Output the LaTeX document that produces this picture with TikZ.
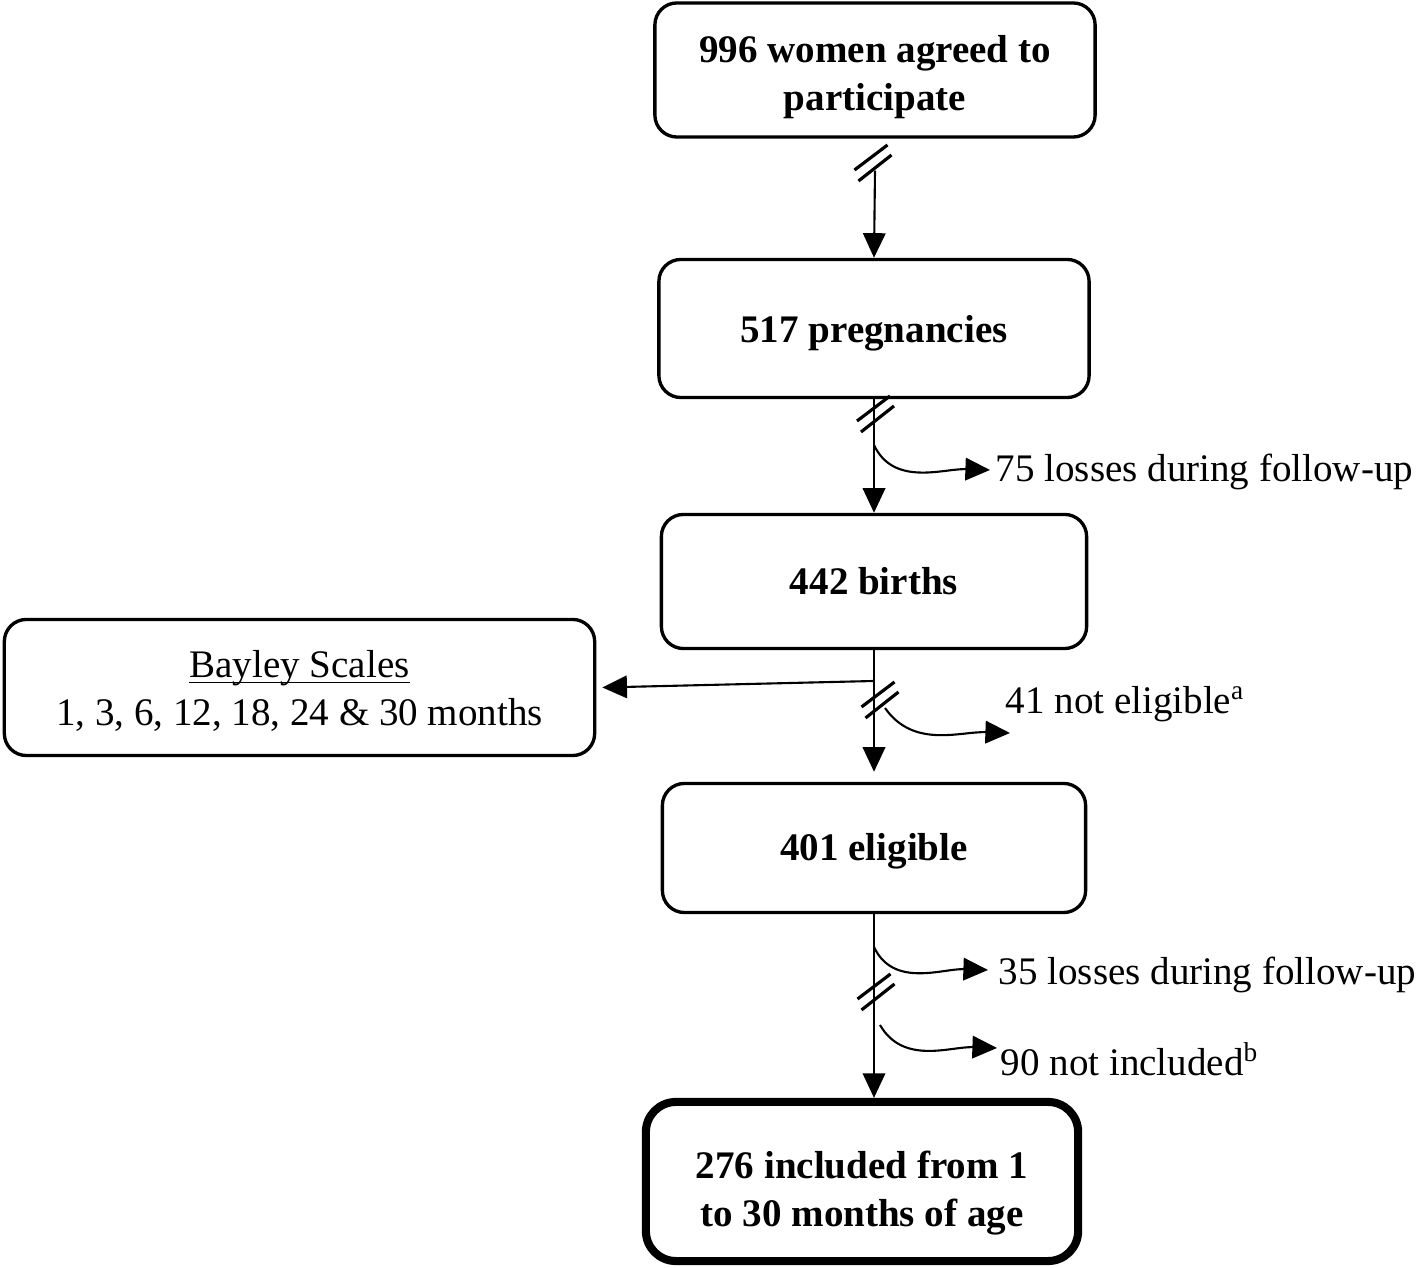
\documentclass[tikz,border=0pt]{standalone}
\usepackage{fontspec}
\setmainfont{Liberation Serif}
\usetikzlibrary{arrows.meta}

\def\fsz{\fontsize{11.1}{13.7}\selectfont}
\def\topgap#1{\rule{0pt}{#1}}

\begin{document}
\begin{tikzpicture}[x=0.01cm, y=-0.01cm,
    every node/.style={font=\fsz},
    stage/.style={draw, line width=0.95pt, rounded corners=0.22cm, align=center, font=\fsz\bfseries},
    flow/.style={line width=0.6pt, -{Triangle[length=7pt,width=6.4pt]}},
    cutmark/.pic={
      \draw[line width=0.9pt] (-18.5,7) -- (14.5,-18);
      \draw[line width=0.9pt] (-14.5,18) -- (18.5,-8);
    }]
      \useasboundingbox (0,0) rectangle (1418,1268);

      % boxes
      \node[stage, minimum width=4.40cm, minimum height=1.34cm] (women) at (875,70) {\topgap{11.6pt}996 women agreed to\\participate};
      \node[stage, text height=10.4pt, minimum width=4.30cm, minimum height=1.38cm] (preg) at (874,328.5) {517 pregnancies};
      \node[stage, minimum width=4.25cm, minimum height=1.34cm] (birth) at (874,581.5) {442 births};
      \node[stage, font=\fsz, minimum width=5.90cm, minimum height=1.36cm] (bayley) at (299.5,687.5) {\topgap{9.8pt}\underline{\smash{Bayley Scales}}\\1, 3, 6, 12, 18, 24 \& 30 months};
      \node[stage, text height=9.3pt, minimum width=4.23cm, minimum height=1.29cm] (elig) at (874,848) {401 eligible};
      \node[stage, line width=2.3pt, rounded corners=0.3cm, minimum width=4.32cm, minimum height=1.59cm] (incl) at (862,1181.5) {\topgap{14.4pt}276 included from 1\\to 30 months of age};

      % side labels
      \node[anchor=west, inner sep=0] (loss1) at (995,472) {75 losses during follow-up};
      \node[anchor=west, inner sep=0] (noelig) at (1005,704) {41 not eligible\textsuperscript{a}};
      \node[anchor=west, inner sep=0] (loss2) at (998,975) {35 losses during follow-up};
      \node[anchor=west, inner sep=0] (notinc) at (1000,1059) {90 not included\textsuperscript{b}};

      % branch points
      \coordinate (br0) at (874,681);
      \coordinate (br1) at (874,445);
      \coordinate (br2) at (885,708);
      \coordinate (br3) at (874,947);
      \coordinate (br4) at (880,1025);

      % main flow
      \draw[flow] ([yshift=-0.32cm]women.south) -- (preg.north);
      \draw[flow] (preg.south) -- (birth.north);
      \draw[flow] (birth.south) -- ([yshift=0.1cm]elig.north);
      \draw[flow] (elig.south) -- (elig.south |- incl.north);
      \draw[flow] (br0) -- ([xshift=0.06cm]bayley.east);

      % exits
      \draw[flow] (br1) to[out=-65, in=178] ([shift={(-0.05cm,0.02cm)}]loss1.west);
      \draw[flow] (br2) to[out=-55, in=178] ([shift={(0.05cm,-0.29cm)}]noelig.west);
      \draw[flow] (br3) to[out=-65, in=178] ([shift={(-0.1cm,0.05cm)}]loss2.west);
      \draw[flow] (br4) to[out=-60, in=178] ([shift={(-0.03cm,0.11cm)}]notinc.west);

      % breaks in the flow
      \pic at (873,163) {cutmark};
      \pic at (875.5,414) {cutmark};
      \pic at (880,700) {cutmark};
      \pic at (876,992) {cutmark};
\end{tikzpicture}
\end{document}
